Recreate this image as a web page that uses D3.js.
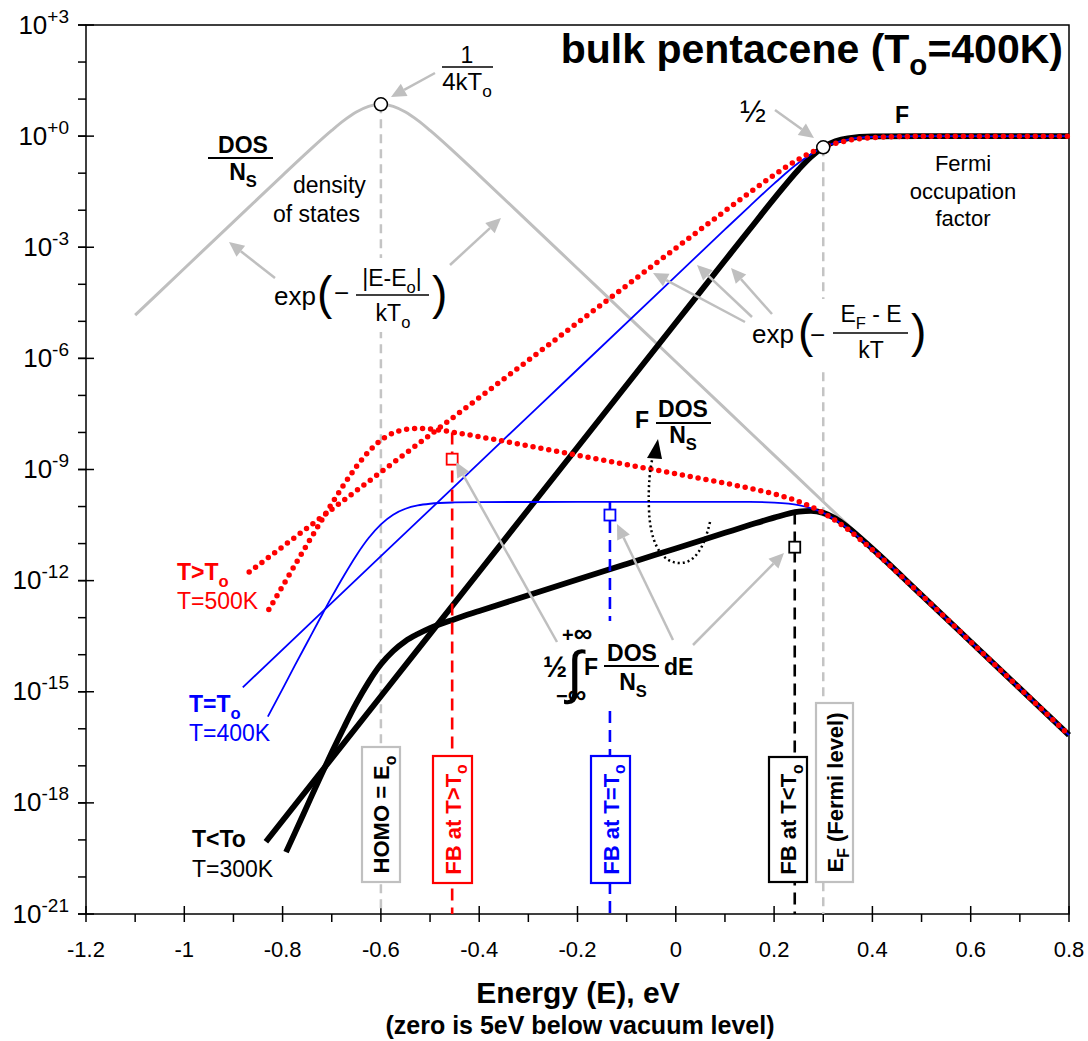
<!DOCTYPE html>
<html>
<head>
<meta charset="utf-8">
<script src="https://cdn.jsdelivr.net/npm/d3@7"></script>
<style>
  body { margin: 0; background: #fff; }
  svg text { font-family: "Liberation Sans", Arial, Helvetica, sans-serif; }
</style>
</head>
<body>
<svg width="1088" height="1041"></svg>
<script>
// ---- data (energy in eV, y = normalised value) ----
const dosE = [-1.1, -1.0, -0.9, -0.8, -0.75, -0.7, -0.675, -0.65, -0.625, -0.6, -0.575, -0.55, -0.525, -0.5, -0.45, -0.4, -0.3, -0.2, -0.1, 0, 0.1, 0.2, 0.3, 0.4, 0.5, 0.6, 0.7, 0.8];
const dosV = [1.47e-5, 2.67e-4, 4.85e-3, 0.0875, 0.365, 1.43, 2.66, 4.47, 6.38, 7.25, 6.38, 4.47, 2.66, 1.43, 0.365, 0.0875, 4.85e-3, 2.67e-4, 1.47e-5, 8.1e-7, 4.46e-8, 2.45e-9, 1.35e-10, 7.4e-12, 4.07e-13, 2.24e-14, 1.23e-15, 6.76e-17];

// Fermi occupation factor F
const f300E = [-0.834, -0.6, -0.4, -0.2, 0, 0.1, 0.15, 0.2, 0.25, 0.275, 0.3, 0.325, 0.35, 0.4, 0.5, 0.8];
const f300V = [8.9e-20, 7.59e-16, 1.74e-12, 3.98e-9, 9.12e-6, 4.37e-4, 3.01e-3, 0.0205, 0.126, 0.275, 0.5, 0.725, 0.874, 0.979, 1.0, 1.0];
const f400E = [-0.881, -0.6, -0.4, -0.2, 0, 0.1, 0.15, 0.2, 0.25, 0.3, 0.35, 0.4, 0.5, 0.6, 0.8];
const f400V = [1.32e-15, 4.57e-12, 1.51e-9, 5.01e-7, 1.66e-4, 3.02e-3, 0.0127, 0.0521, 0.190, 0.5, 0.810, 0.948, 0.997, 1.0, 1.0];
const f500E = [-0.868, -0.6, -0.4, -0.2, 0, 0.1, 0.15, 0.2, 0.25, 0.3, 0.35, 0.4, 0.5, 0.6, 0.8];
const f500V = [1.70e-12, 8.51e-10, 8.71e-8, 9.12e-6, 9.46e-4, 9.55e-3, 0.0299, 0.0894, 0.239, 0.5, 0.761, 0.911, 0.990, 0.999, 1.0];

// F * DOS / Ns
const fd300E = [-0.793, -0.775, -0.75, -0.725, -0.7, -0.675, -0.65, -0.625, -0.6, -0.575, -0.55, -0.525, -0.5, -0.45, -0.4, -0.3, -0.2, -0.1, 0, 0.1, 0.15, 0.2, 0.25, 0.275, 0.3, 0.325, 0.35, 0.4, 0.5, 0.6, 0.7, 0.8];
const fd300V = [4.68e-20, 1.55e-19, 8.32e-19, 4.47e-18, 2.29e-17, 1.10e-16, 4.90e-16, 1.82e-15, 5.50e-15, 1.26e-14, 2.34e-14, 3.63e-14, 5.25e-14, 9.12e-14, 1.51e-13, 4.03e-13, 1.07e-12, 2.82e-12, 7.41e-12, 1.95e-11, 3.16e-11, 5.01e-11, 7.24e-11, 7.67e-11, 6.75e-11, 4.73e-11, 2.76e-11, 7.26e-12, 4.07e-13, 2.24e-14, 1.23e-15, 6.76e-17];
const fd400E = [-0.83, -0.8, -0.775, -0.75, -0.725, -0.7, -0.675, -0.65, -0.625, -0.6, -0.575, -0.55, -0.525, -0.5, -0.45, -0.4, -0.2, 0, 0.15, 0.2, 0.25, 0.3, 0.35, 0.4, 0.5, 0.6, 0.7, 0.8];
const fd400V = [2.14e-16, 1.20e-15, 5.13e-15, 2.14e-14, 8.91e-14, 3.63e-13, 1.38e-12, 4.79e-12, 1.41e-11, 3.31e-11, 6.03e-11, 8.71e-11, 1.07e-10, 1.19e-10, 1.29e-10, 1.32e-10, 1.33e-10, 1.33e-10, 1.33e-10, 1.28e-10, 1.10e-10, 6.76e-11, 2.57e-11, 7.08e-12, 4.07e-13, 2.24e-14, 1.23e-15, 6.76e-17];
const fd500E = [-0.828, -0.8, -0.775, -0.75, -0.725, -0.7, -0.675, -0.65, -0.625, -0.6, -0.575, -0.55, -0.525, -0.5, -0.475, -0.45, -0.4, -0.3, -0.2, -0.1, 0, 0.1, 0.15, 0.2, 0.25, 0.3, 0.35, 0.4, 0.5, 0.6, 0.7, 0.8];
const fd500V = [1.66e-13, 7.08e-13, 2.63e-12, 9.55e-12, 3.39e-11, 1.19e-10, 3.95e-10, 1.19e-9, 3.02e-9, 6.17e-9, 9.64e-9, 1.21e-8, 1.29e-8, 1.24e-8, 1.13e-8, 1.00e-8, 7.69e-9, 4.34e-9, 2.43e-9, 1.36e-9, 7.66e-10, 4.26e-10, 3.13e-10, 2.19e-10, 1.37e-10, 6.75e-11, 2.41e-11, 6.75e-12, 4.04e-13, 2.24e-14, 1.23e-15, 6.76e-17];

// FB positions (half of the integral) and markers
const fbE = [-0.455, -0.134, 0.242];
const fbTop = [1.0e-8, 1.33e-10, 6.9e-11];
const fbSquare = [1.9e-9, 5.9e-11, 8.0e-12];
const fbColor = ['#ff0000', '#0000ff', '#000000'];
const fbLabel = ['FB at T>T', 'FB at T=T', 'FB at T<T'];

const homoE = -0.6, homoPeak = 7.25;
const fermiE = 0.3, fermiHalf = 0.5;

const xTicks = [-1.2, -1, -0.8, -0.6, -0.4, -0.2, 0, 0.2, 0.4, 0.6, 0.8];
const xMinor = [-1.1, -0.9, -0.7, -0.5, -0.3, -0.1, 0.1, 0.3, 0.5, 0.7];
const yTicks = [1e3, 1e0, 1e-3, 1e-6, 1e-9, 1e-12, 1e-15, 1e-18, 1e-21];
const yTickExp = ['+3', '+0', '-3', '-6', '-9', '-12', '-15', '-18', '-21'];

// ---- scales ----
const svg = d3.select('svg');
const x = d3.scaleLinear().domain([-1.2, 0.8]).range([86, 1069]);
const y = d3.scaleLog().domain([1e-21, 1e3]).range([914, 25]);

const line = d3.line()
  .x(d => x(d[0]))
  .y(d => y(d[1]))
  .curve(d3.curveMonotoneX);

// text with sub/superscripts
function rich(parent, px, py, parts, size) {
  const t = parent.append('text').attr('x', px).attr('y', py).attr('font-size', size);
  let shift = 0;
  parts.forEach(p => {
    const k = p[1] || '';
    const target = k === 'sub' ? size * 0.3 : k === 'sup' ? -size * 0.42 : 0;
    t.append('tspan')
      .attr('dy', target - shift)
      .attr('font-size', k ? size * 0.72 : size)
      .text(p[0]);
    shift = target;
  });
  return t;
}

function arrow(x1, y1, x2, y2, color) {
  color = color || '#bfbfbf';
  const a = Math.atan2(y2 - y1, x2 - x1);
  const hl = 15, hw = 7;
  const bx = x2 - hl * Math.cos(a), by = y2 - hl * Math.sin(a);
  svg.append('line')
    .attr('x1', x1).attr('y1', y1).attr('x2', bx).attr('y2', by)
    .attr('stroke', color).attr('stroke-width', 2.5);
  svg.append('path')
    .attr('d', `M${x2},${y2}L${bx + hw * Math.sin(a)},${by - hw * Math.cos(a)}L${bx - hw * Math.sin(a)},${by + hw * Math.cos(a)}Z`)
    .attr('fill', color);
}

// ---- frame and ticks ----
svg.append('rect')
  .attr('x', x(-1.2)).attr('y', y(1e3))
  .attr('width', x(0.8) - x(-1.2)).attr('height', y(1e-21) - y(1e3))
  .attr('fill', 'none').attr('stroke', '#000').attr('stroke-width', 1.5);

const ax = svg.append('g').attr('stroke', '#000').attr('stroke-width', 1.5);
xTicks.forEach(v => ax.append('line').attr('x1', x(v)).attr('x2', x(v)).attr('y1', 906).attr('y2', 922));
xMinor.forEach(v => ax.append('line').attr('x1', x(v)).attr('x2', x(v)).attr('y1', 914).attr('y2', 922));
yTicks.forEach(v => ax.append('line').attr('x1', 78).attr('x2', 94).attr('y1', y(v)).attr('y2', y(v)));
d3.range(-21, 4).forEach(p => {
  const v = Math.pow(10, p);
  ax.append('line').attr('x1', 78).attr('x2', 86).attr('y1', y(v)).attr('y2', y(v));
});

xTicks.forEach(v => {
  svg.append('text').attr('x', x(v)).attr('y', 957)
    .attr('text-anchor', 'middle').attr('font-size', 22).text(String(v));
});
yTicks.forEach((v, i) => {
  const t = svg.append('text').attr('x', 69).attr('y', y(v) + 8.5).attr('text-anchor', 'end');
  t.append('tspan').attr('font-size', 26).text('10');
  t.append('tspan').attr('font-size', 19).attr('dy', -11).text(yTickExp[i]);
});

svg.append('text').attr('x', 578).attr('y', 1003).attr('text-anchor', 'middle')
  .attr('font-size', 30).attr('font-weight', 'bold').text('Energy (E), eV');
svg.append('text').attr('x', 580).attr('y', 1034).attr('text-anchor', 'middle')
  .attr('font-size', 25).attr('font-weight', 'bold').text('(zero is 5eV below vacuum level)');

rich(svg, 1063, 63, [['bulk pentacene (T'], ['o', 'sub'], ['=400K)']], 41)
  .attr('text-anchor', 'end').attr('font-weight', 'bold');

// ---- curves ----
svg.append('path').datum(d3.zip(dosE, dosV)).attr('d', line)
  .attr('fill', 'none').attr('stroke', '#bfbfbf').attr('stroke-width', 3);

// reference levels (gray dashed)
[[homoE, homoPeak], [fermiE, fermiHalf]].forEach(d => {
  svg.append('line').attr('x1', x(d[0])).attr('x2', x(d[0]))
    .attr('y1', y(d[1])).attr('y2', y(1e-21))
    .attr('stroke', '#c4c4c4').attr('stroke-width', 2.5).attr('stroke-dasharray', '9 6');
});

[[f300E, f300V], [fd300E, fd300V]].forEach(s => {
  svg.append('path').datum(d3.zip(s[0], s[1])).attr('d', line)
    .attr('fill', 'none').attr('stroke', '#000').attr('stroke-width', 5.8);
});
[[f400E, f400V], [fd400E, fd400V]].forEach(s => {
  svg.append('path').datum(d3.zip(s[0], s[1])).attr('d', line)
    .attr('fill', 'none').attr('stroke', '#0000ff').attr('stroke-width', 1.8);
});
[[f500E, f500V], [fd500E, fd500V]].forEach(s => {
  svg.append('path').datum(d3.zip(s[0], s[1])).attr('d', line)
    .attr('fill', 'none').attr('stroke', '#ff0000').attr('stroke-width', 5.5)
    .attr('stroke-linecap', 'round').attr('stroke-dasharray', '0 8');
});

// FB dashed lines
fbE.forEach((e, i) => {
  svg.append('line').attr('x1', x(e)).attr('x2', x(e))
    .attr('y1', y(fbTop[i])).attr('y2', y(1e-21))
    .attr('stroke', fbColor[i]).attr('stroke-width', 2.6).attr('stroke-dasharray', '12 7');
});

// white backgrounds behind formula labels
[[268, 258, 182, 74], [798, 299, 132, 72], [545, 621, 155, 86]].forEach(r => {
  svg.append('rect').attr('x', r[0]).attr('y', r[1]).attr('width', r[2]).attr('height', r[3]).attr('fill', '#fff');
});

// rotated boxed labels
const boxes = [
  { cx: 381, y0: 747, y1: 882, w: 38, stroke: '#c0c0c0', color: '#000', parts: [['HOMO = E'], ['o', 'sub']] },
  { cx: 452.5, y0: 756, y1: 883, w: 39, stroke: fbColor[0], color: fbColor[0], parts: [[fbLabel[0]], ['o', 'sub']] },
  { cx: 610.5, y0: 756, y1: 883, w: 39, stroke: fbColor[1], color: fbColor[1], parts: [[fbLabel[1]], ['o', 'sub']] },
  { cx: 788, y0: 757, y1: 882, w: 38, stroke: fbColor[2], color: fbColor[2], parts: [[fbLabel[2]], ['o', 'sub']] },
  { cx: 834.5, y0: 703, y1: 882, w: 37, stroke: '#c0c0c0', color: '#000', parts: [['E'], ['F', 'sub'], [' (Fermi level)']] }
];
boxes.forEach(b => {
  svg.append('rect').attr('x', b.cx - b.w / 2).attr('y', b.y0)
    .attr('width', b.w).attr('height', b.y1 - b.y0)
    .attr('fill', '#fff').attr('stroke', b.stroke).attr('stroke-width', 2.2);
  const g = svg.append('g').attr('transform', `translate(${b.cx},${(b.y0 + b.y1) / 2}) rotate(-90)`);
  rich(g, 0, 8, b.parts, 22).attr('text-anchor', 'middle')
    .attr('font-weight', 'bold').attr('fill', b.color);
});

// squares and circles
fbE.forEach((e, i) => {
  svg.append('rect').attr('x', x(e) - 5.5).attr('y', y(fbSquare[i]) - 5.5)
    .attr('width', 11).attr('height', 11)
    .attr('fill', '#fff').attr('stroke', fbColor[i]).attr('stroke-width', 1.8);
});
[[homoE, homoPeak], [fermiE, fermiHalf]].forEach(d => {
  svg.append('circle').attr('cx', x(d[0])).attr('cy', y(d[1])).attr('r', 6.5)
    .attr('fill', '#fff').attr('stroke', '#000').attr('stroke-width', 1.5);
});

// ---- annotations ----
const T = (px, py, s, size, opts) => {
  const t = svg.append('text').attr('x', px).attr('y', py).attr('font-size', size).text(s);
  if (opts) Object.keys(opts).forEach(k => t.attr(k, opts[k]));
  return t;
};
const bar = (x1, x2, yy, w) => svg.append('line').attr('x1', x1).attr('x2', x2)
  .attr('y1', yy).attr('y2', yy).attr('stroke', '#000').attr('stroke-width', w || 1.5);

// 1 / 4kTo
T(467, 63, '1', 23, { 'text-anchor': 'middle' });
bar(442, 493, 67);
rich(svg, 467, 90, [['4kT'], ['o', 'sub']], 24).attr('text-anchor', 'middle');
arrow(435, 73, 391, 97);

// DOS / Ns
T(243, 153, 'DOS', 23, { 'text-anchor': 'middle', 'font-weight': 'bold' });
bar(208, 273, 158, 2);
rich(svg, 243, 180, [['N'], ['S', 'sub']], 23).attr('text-anchor', 'middle').attr('font-weight', 'bold');
T(293, 193, 'density', 23);
T(273, 222, 'of states', 23);

// exp(-|E-Eo|/kTo)
T(274, 305, 'exp', 26);
T(317, 309, '(', 46);
T(334, 302, '\u2212', 26);
rich(svg, 392, 286, [['|E-E'], ['o', 'sub'], ['|']], 23).attr('text-anchor', 'middle');
bar(356, 429, 295);
rich(svg, 393, 321, [['kT'], ['o', 'sub']], 23).attr('text-anchor', 'middle');
T(432, 309, ')', 46);
arrow(275, 278, 229, 242);
arrow(450, 265, 501, 218);

// 1/2 and F
T(740, 122, '\u00bd', 31);
arrow(775, 110, 814, 138);
T(902, 123, 'F', 23, { 'text-anchor': 'middle', 'font-weight': 'bold' });
['Fermi', 'occupation', 'factor'].forEach((s, i) => T(963, 171 + i * 27.5, s, 22, { 'text-anchor': 'middle' }));

// exp(-(EF-E)/kT)
T(752, 343, 'exp', 26);
T(798, 347, '(', 46);
T(810, 344, '\u2212', 26);
rich(svg, 871, 322, [['E'], ['F', 'sub'], [' - E']], 23).attr('text-anchor', 'middle');
bar(833, 908, 333);
T(871, 358, 'kT', 23, { 'text-anchor': 'middle' });
T(911, 347, ')', 46);
arrow(745, 322, 653, 273);
arrow(752, 317, 697, 265);
arrow(772, 314, 731, 268);

// F DOS/Ns with curled dotted arrow
T(635, 428, 'F', 23, { 'font-weight': 'bold' });
T(683, 417, 'DOS', 23, { 'text-anchor': 'middle', 'font-weight': 'bold' });
bar(656, 711, 423, 2);
rich(svg, 683, 443, [['N'], ['S', 'sub']], 23).attr('text-anchor', 'middle').attr('font-weight', 'bold');
svg.append('path')
  .attr('d', 'M710,522 C704,548 695,563 680,563 C660,563 650,540 649,510 C648,485 650,468 653,456')
  .attr('fill', 'none').attr('stroke', '#000').attr('stroke-width', 2.5).attr('stroke-dasharray', '2 3');
svg.append('path').attr('d', 'M658,439 L647,458 L662,459 Z').attr('fill', '#000');

// 1/2 integral label
T(543, 677, '\u00bd', 29, { 'font-weight': 'bold' });
const up = T(562, 642, '', 20, { 'font-weight': 'bold' });
up.append('tspan').text('+');
up.append('tspan').attr('font-size', 26).text('\u221e');
T(567, 692, '\u222b', 58);
const lo = T(556, 703, '', 20, { 'font-weight': 'bold' });
lo.append('tspan').text('\u2212');
lo.append('tspan').attr('font-size', 26).text('\u221e');
T(584, 675, 'F', 23, { 'font-weight': 'bold' });
T(632, 661, 'DOS', 23, { 'text-anchor': 'middle', 'font-weight': 'bold' });
bar(604, 659, 666, 2);
rich(svg, 633, 690, [['N'], ['S', 'sub']], 23).attr('text-anchor', 'middle').attr('font-weight', 'bold');
T(664, 675, 'dE', 23, { 'font-weight': 'bold' });
arrow(557, 642, 456, 462);
arrow(673, 640, 617, 524);
arrow(693, 645, 784, 553);

// temperature labels
rich(svg, 177, 580, [['T>T'], ['o', 'sub']], 23).attr('font-weight', 'bold').attr('fill', '#ff0000');
T(177, 609, 'T=500K', 23, { fill: '#ff0000' });
rich(svg, 189, 712, [['T=T'], ['o', 'sub']], 23).attr('font-weight', 'bold').attr('fill', '#0000ff');
T(189, 741, 'T=400K', 23, { fill: '#0000ff' });
T(192, 847, 'T<To', 23, { 'font-weight': 'bold' });
T(192, 877, 'T=300K', 23);
</script>
</body>
</html>
